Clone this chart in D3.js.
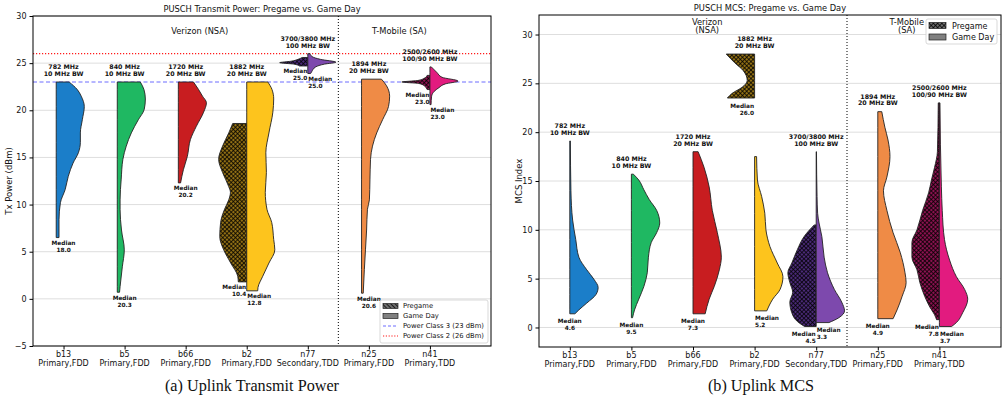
<!DOCTYPE html>
<html>
<head>
<meta charset="utf-8">
<script src="https://cdn.jsdelivr.net/npm/d3@7"></script>
<style>
  body { margin: 0; background: #fff; }
  svg text { font-family: "DejaVu Sans", sans-serif; fill: #111; }
  .caption { font-family: "Liberation Serif", "Times New Roman", serif; }
</style>
</head>
<body>
<svg id="chart" width="1008" height="402"></svg>
<script>
// ---- data ----
var bands = ["b13", "b5", "b66", "b2", "n77", "n25", "n41"];
var bandRoles = ["Primary,FDD", "Primary,FDD", "Primary,FDD", "Primary,FDD", "Secondary,TDD", "Primary,FDD", "Primary,TDD"];
var freqLines = [["782 MHz", "10 MHz BW"], ["840 MHz", "10 MHz BW"], ["1720 MHz", "20 MHz BW"], ["1882 MHz", "20 MHz BW"],
                 ["3700/3800 MHz", "100 MHz BW"], ["1894 MHz", "20 MHz BW"], ["2500/2600 MHz", "100/90 MHz BW"]];
var powerClasses = [["Power Class 3 (23 dBm)", 23], ["Power Class 2 (26 dBm)", 26]];

// violin profiles: [value, relative density]
var powerPregame = [null, null, null,
  [[18.6,.5],[17.6,.64],[16.2,.86],[14.8,1],[13.4,.86],[11.9,.64],[11.3,.58],[10.5,.64],[9.5,.79],[8.1,.93],[6.6,.96],[5.2,.82],[3.8,.57],[2.4,.32],[1.8,.3]],
  [[25.6,.2],[25.4,.35],[25.2,.6],[25.05,1],[24.9,.5],[24.7,.3]],
  null,
  [[23.7,.1],[23.4,.2],[23.15,.45],[23,1],[22.85,.4],[22.6,.2],[22.3,.12],[22.2,.1]]];
var powerGameDay = [
  [[23,.46],[22.2,.75],[21.5,.89],[20.4,1],[19,.93],[17.6,.86],[16.6,.86],[15.5,.79],[14.4,.6],[13,.43],[11.6,.32],[10.2,.15],[8.4,.1],[6.5,.1]],
  [[23,.82],[22.2,.95],[21.2,1],[20.1,.96],[19,.75],[17.6,.5],[16.2,.32],[14.8,.2],[12.7,.14],[10.5,.1],[9.5,.1],[7.3,.15],[5.2,.25],[3.4,.18],[1.3,.1],[.7,.08]],
  [[23,.54],[22.2,.72],[21.5,.86],[20.8,1],[19.8,.9],[18.3,.64],[16.9,.43],[15.1,.32],[13.7,.18],[12.3,.08]],
  [[23,.75],[22.2,.9],[21.2,.96],[19.8,.93],[17.6,.79],[15.5,.68],[13.4,.7],[11.3,.66],[9.5,.72],[8.1,.89],[6.3,.96],[5.2,1],[3.8,.79],[2.4,.57],[1.2,.4],[.85,.39]],
  [[26,.08],[25.7,.15],[25.4,.45],[25.1,1],[24.9,.6],[24.6,.28],[24.1,.14],[23.9,.1]],
  [[23.3,.71],[22.6,.89],[21.5,1],[20.4,.96],[19,.75],[17.6,.54],[16.2,.39],[14.8,.32],[12.7,.3],[10.5,.28],[9.5,.21],[7.3,.18],[5.2,.14],[3.1,.1],[.6,.06]],
  [[24.6,.05],[24,.25],[23.5,.43],[23.1,1],[22.8,.55],[22.4,.32],[22,.15],[21.5,.06],[20.6,.04]]];
var powerPregameMedian = [null, null, null, 10.4, 25.0, null, 23.0];
var powerGameMedian = [18.0, 20.3, 20.2, 12.8, 25.0, 20.6, 23.0];

var mcsPregame = [null, null, null,
  [[28,1],[27.1,.7],[26.3,.4],[25.3,.26],[24.6,.44],[24,.78],[23.5,.96]],
  [[10.5,.07],[9.3,.43],[8,.66],[6.6,.86],[5.6,1],[4.6,.93],[3.6,.83],[2.6,.93],[1.5,.86],[.6,.66],[.1,.41]],
  null,
  [[23,.04],[18,.07],[16.4,.17],[15.1,.28],[13.8,.38],[12,.59],[10,.79],[8.7,.97],[7.2,.97],[5.9,.79],[4.6,.69],[3.2,.52],[2.1,.34],[1.3,.17],[.8,.1]]];
var mcsGameDay = [
  [[19.1,.02],[14,.04],[11,.1],[9,.21],[7.2,.32],[5.9,.6],[4.9,.86],[4.1,1],[3.4,.93],[2.5,.6],[1.8,.32],[1.4,.18]],
  [[15.7,.07],[15.1,.26],[14.1,.44],[13.1,.63],[12,.89],[10.7,1],[9.7,.89],[8.7,.7],[7.2,.6],[5.6,.56],[4.2,.44],[2.9,.26],[1.8,.11],[1,.04]],
  [[18,.18],[16.4,.39],[14.4,.57],[12,.68],[9.7,.86],[7.2,1],[5.9,.93],[4.2,.75],[2.9,.57],[1.4,.43]],
  [[17.5,.07],[15.1,.1],[13.4,.25],[11.7,.36],[10,.4],[8.3,.54],[6.6,.8],[5.2,1],[3.9,.9],[2.9,.64],[1.7,.43]],
  [[18,.01],[13.4,.03],[11.7,.05],[10.7,.1],[9.3,.2],[7.2,.28],[5.6,.4],[3.9,.64],[2.6,.9],[1.7,1],[1,.8],[.5,.45]],
  [[22.1,.14],[20.5,.25],[19.2,.36],[17.5,.43],[15.4,.32],[14,.2],[12,.32],[9.7,.54],[7.7,.79],[5.6,.96],[4.6,1],[3.2,.86],[1.8,.68],[.9,.54]],
  [[23,.02],[14.4,.07],[12,.1],[9,.18],[6.9,.36],[5.2,.6],[3.9,.89],[2.9,1],[1.5,.82],[.5,.6],[.1,.43]]];
var mcsPregameMedian = [null, null, null, 26.0, 4.5, null, 7.8];
var mcsGameMedian = [4.6, 9.5, 7.3, 5.2, 3.3, 4.9, 3.7];

// ---- styles ----
var gameColors = ["#1b7ec9", "#1fb862", "#c81d20", "#fdc41d", "#7d49ad", "#ef8b46", "#e21b7f"];
var pregameColors = [null, null, null, "#927014", "#4b2a78", null, "#8c1250"];

var svg = d3.select("#chart");
var defs = svg.append("defs");

function hatch(id, base, cross) {
  var pat = defs.append("pattern").attr("id", id).attr("patternUnits", "userSpaceOnUse")
    .attr("width", 3).attr("height", 3).attr("patternTransform", "rotate(45)");
  pat.append("rect").attr("width", 3).attr("height", 3).attr("fill", base);
  pat.append("path").attr("d", cross ? "M0,1.5H3M1.5,0V3" : "M0,1.5H3")
    .attr("stroke", "#000").attr("stroke-width", 0.75);
}
pregameColors.forEach(function (c, i) { if (c) hatch("hatch" + i, c, true); });
hatch("legHatchL", "#6f6f6f", false);
hatch("legHatchR", "#6f6f6f", true);

function twoLines(g, x, yBase, lines, anchor, size, weight, gap) {
  var t = g.append("text").attr("text-anchor", anchor).attr("font-size", size).attr("font-weight", weight);
  lines.forEach(function (s, k) {
    t.append("tspan").attr("x", x).attr("y", yBase + k * gap).text(s);
  });
  return t;
}

function drawPanel(p) {
  var g = svg.append("g");
  var x = d3.scaleLinear().domain([-0.5, 7]).range([p.left, p.right]);
  var y = d3.scaleLinear().domain(p.yDomain).range([p.bottom, p.top]);
  var halfW = 0.46 * (x(1) - x(0));

  // grid
  g.selectAll(".grid").data(p.yTicks).join("line")
    .attr("x1", p.left).attr("x2", p.right)
    .attr("y1", function (d) { return y(d); }).attr("y2", function (d) { return y(d); })
    .attr("stroke", "#dedede").attr("stroke-width", 1);

  // reference lines
  if (p.refLines) {
    g.selectAll(".ref").data(powerClasses).join("line")
      .attr("x1", p.left).attr("x2", p.right)
      .attr("y1", function (d) { return y(d[1]); }).attr("y2", function (d) { return y(d[1]); })
      .attr("stroke", function (d, k) { return k === 0 ? "#5c5cff" : "#ff1a1a"; })
      .attr("stroke-width", function (d, k) { return k === 0 ? 0.9 : 1.2; })
      .attr("stroke-dasharray", function (d, k) { return k === 0 ? "4,2.5" : "1.2,1.8"; });
  }

  function half(profile, base, side, fill) {
    var area = d3.area()
      .y(function (d) { return y(d[0]); })
      .x0(base)
      .x1(function (d) { return base + side * d[1] * halfW; })
      .curve(d3.curveMonotoneY);
    g.append("path").attr("d", area(profile)).attr("fill", fill)
      .attr("stroke", "#222").attr("stroke-width", 0.9).attr("stroke-linejoin", "round");
  }
  function medLabel(cx, minV, anchor, val) {
    twoLines(g, cx, y(minV) + p.medOff, ["Median", val.toFixed(1)], anchor, 5.8, "bold", 7);
  }

  bands.forEach(function (b, i) {
    var pre = p.pregame[i], game = p.gameDay[i];
    var cx = x(i);
    var base = pre ? cx : x(i + p.singleShift);
    if (pre) half(pre, cx, -1, "url(#hatch" + i + ")");
    half(game, base, 1, gameColors[i]);

    if (pre) medLabel(cx - 0.5, d3.min(pre, function (d) { return d[0]; }), "end", p.preMed[i]);
    medLabel(pre ? cx + 0.5 : cx, d3.min(game, function (d) { return d[0]; }), pre ? "start" : "middle", p.gameMed[i]);

    var topV = d3.max((pre || []).concat(game), function (d) { return d[0]; });
    twoLines(g, cx, y(topV) - 13, freqLines[i], "middle", 6.3, "bold", 6.8);
  });

  // carrier separator
  g.append("line").attr("x1", x(4.5)).attr("x2", x(4.5)).attr("y1", p.top).attr("y2", p.bottom)
    .attr("stroke", "#000").attr("stroke-width", 1).attr("stroke-dasharray", "1,2");

  // carrier labels
  p.groups.forEach(function (gr) {
    twoLines(g, x(gr[1]), p.groupY, gr[0], "middle", 8.3, "normal", 8.3);
  });

  // axes
  var ya = g.append("g").attr("transform", "translate(" + p.left + ",0)")
    .call(d3.axisLeft(y).tickValues(p.yTicks).tickSize(3.5)
      .tickFormat(function (d) { return d < 0 ? "\u2212" + Math.abs(d) : d; }));
  ya.select(".domain").remove();
  ya.selectAll("text").attr("font-size", 8).attr("font-family", "DejaVu Sans").attr("fill", "#111");
  ya.selectAll("line").attr("stroke", "#000");

  var xa = g.append("g").attr("transform", "translate(0," + p.bottom + ")")
    .call(d3.axisBottom(x).tickValues(d3.range(bands.length)).tickSize(3.5).tickFormat(""));
  xa.select(".domain").remove();
  xa.selectAll("line").attr("stroke", "#000");
  bands.forEach(function (b, i) {
    twoLines(g, x(i), p.bottom + 11, [b, bandRoles[i]], "middle", 8, "normal", 9.2);
  });

  g.append("rect").attr("x", p.left).attr("y", p.top)
    .attr("width", p.right - p.left).attr("height", p.bottom - p.top)
    .attr("fill", "none").attr("stroke", "#000").attr("stroke-width", 1);

  g.append("text").attr("x", (p.left + p.right) / 2).attr("y", p.top - 4)
    .attr("text-anchor", "middle").attr("font-size", 8.3).text(p.title);

  g.append("text").attr("transform", "translate(" + p.yLabelX + "," + (p.top + p.bottom) / 2 + ") rotate(-90)")
    .attr("text-anchor", "middle").attr("font-size", 8.5).text(p.yLabel);

  g.append("text").attr("class", "caption").attr("x", p.captionX).attr("y", 391)
    .attr("text-anchor", "middle").attr("font-size", 16.2).text(p.caption);
  return g;
}

var left = drawPanel({
  left: 33, right: 491, top: 16, bottom: 346, yDomain: [-5, 30], yTicks: [-5, 0, 5, 10, 15, 20, 25, 30],
  pregame: powerPregame, gameDay: powerGameDay, preMed: powerPregameMedian, gameMed: powerGameMedian,
  singleShift: -0.12, medOff: 7.5, refLines: true,
  groups: [[["Verizon (NSA)"], 2.23], [["T-Mobile (SA)"], 5.5]], groupY: 34,
  title: "PUSCH Transmit Power: Pregame vs. Game Day", yLabel: "Tx Power (dBm)", yLabelX: 12,
  caption: "(a) Uplink Transmit Power", captionX: 252
});

var right = drawPanel({
  left: 539, right: 1001, top: 15, bottom: 347, yDomain: [-2, 32], yTicks: [0, 5, 10, 15, 20, 25, 30],
  pregame: mcsPregame, gameDay: mcsGameDay, preMed: mcsPregameMedian, gameMed: mcsGameMedian,
  singleShift: 0, medOff: 9.5, refLines: false,
  groups: [[["Verizon", "(NSA)"], 2.23], [["T-Mobile", "(SA)"], 5.47]], groupY: 25,
  title: "PUSCH MCS: Pregame vs. Game Day", yLabel: "MCS Index", yLabelX: 522,
  caption: "(b) Uplink MCS", captionX: 761
});

// legends
function legendBox(g, x0, y0, w, h) {
  g.append("rect").attr("x", x0).attr("y", y0).attr("width", w).attr("height", h).attr("rx", 2)
    .attr("fill", "#fff").attr("fill-opacity", 0.85).attr("stroke", "#cfcfcf").attr("stroke-width", 0.8);
}
var lg = left.append("g");
legendBox(lg, 380, 300, 108, 43);
var leftItems = [["Pregame", "patch", "url(#legHatchL)"], ["Game Day", "patch", "#808080"],
                 [powerClasses[0][0], "line", "#5c5cff"], [powerClasses[1][0], "line", "#ff1a1a"]];
leftItems.forEach(function (it, k) {
  var yy = 306 + k * 10;
  if (it[1] === "patch") {
    lg.append("rect").attr("x", 383).attr("y", yy - 2.5).attr("width", 15).attr("height", 5)
      .attr("fill", it[2]).attr("stroke", "#222").attr("stroke-width", 0.7);
  } else {
    lg.append("line").attr("x1", 383).attr("x2", 398).attr("y1", yy).attr("y2", yy)
      .attr("stroke", it[2]).attr("stroke-width", k === 2 ? 0.9 : 1.2)
      .attr("stroke-dasharray", k === 2 ? "3,2" : "1.2,1.6");
  }
  lg.append("text").attr("x", 403).attr("y", yy + 2.4).attr("font-size", 6.8).text(it[0]);
});

var rg = right.append("g");
legendBox(rg, 926, 19, 71, 25);
[["Pregame", "url(#legHatchR)"], ["Game Day", "#808080"]].forEach(function (it, k) {
  var yy = 25.5 + k * 11.5;
  rg.append("rect").attr("x", 929).attr("y", yy - 3).attr("width", 17).attr("height", 6)
    .attr("fill", it[1]).attr("stroke", "#222").attr("stroke-width", 0.7);
  rg.append("text").attr("x", 952).attr("y", yy + 3).attr("font-size", 8).text(it[0]);
});
</script>
</body>
</html>
